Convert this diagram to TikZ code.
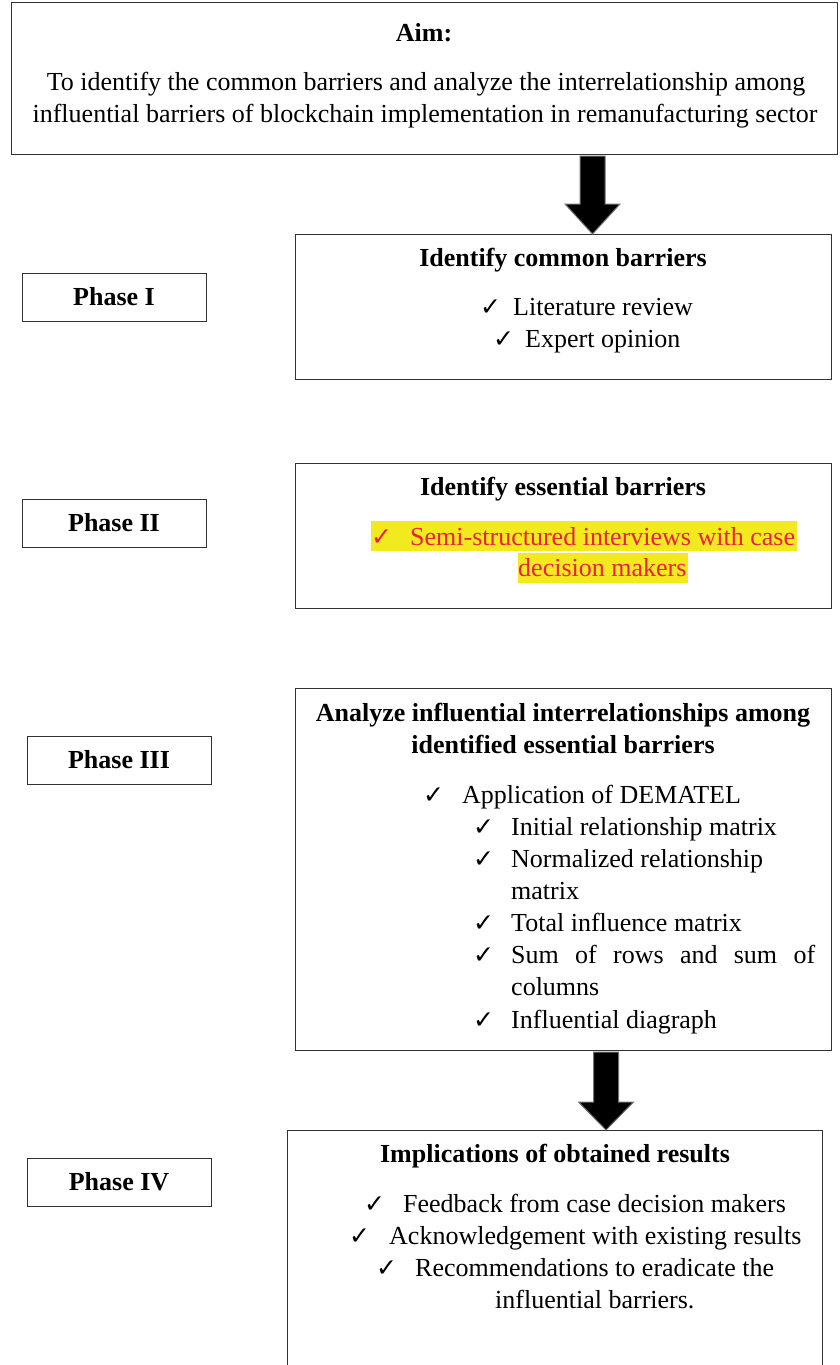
\documentclass[tikz,border=0pt]{standalone}
\usepackage{fontspec}
\setmainfont{Liberation Serif}
\newfontfamily\symf{DejaVu Sans}
\usetikzlibrary{calc}
\definecolor{hlred}{RGB}{236,32,66}
\definecolor{hlyel}{RGB}{242,234,30}
\definecolor{edge}{RGB}{50,50,50}
\tikzset{
 frame/.style={draw=edge, line width=1.2pt, inner sep=0pt, anchor=north west},
 txt/.style={inner sep=0pt, font=\fontsize{26}{32}\selectfont},
 hd/.style={inner sep=0pt, font=\fontsize{26}{32}\selectfont\bfseries},
 ck/.style={inner sep=0pt, anchor=base west, font=\symf\fontsize{25}{30}\selectfont},
 blk/.style={fill=black, draw=black!55, line width=1pt},
 hl/.style={fill=hlyel, draw=none},
}
\begin{document}
\begin{tikzpicture}[x=1pt,y=-1pt]
\useasboundingbox (0,0) rectangle (840,1365);
\clip (0,0) rectangle (840,1365);
\fill[white] (0,0) rectangle (840,1365);

% boxes
\node[frame, minimum width=826pt, minimum height=152pt] (aim) at (11,2) {};
\node[frame, minimum width=184pt, minimum height=48pt] (p1) at (22,273) {};
\node[frame, minimum width=184pt, minimum height=48pt] (p2) at (22,499) {};
\node[frame, minimum width=184pt, minimum height=48pt] (p3) at (27,736) {};
\node[frame, minimum width=184pt, minimum height=48pt] (p4) at (27,1158) {};
\node[frame, minimum width=536pt, minimum height=145pt] (c1) at (295,234) {};
\node[frame, minimum width=536pt, minimum height=145pt] (c2) at (295,463) {};
\node[frame, minimum width=536pt, minimum height=362pt] (c3) at (295,688) {};
\node[frame, minimum width=535pt, minimum height=260pt] (c4) at (287,1130) {};

% block arrows
\coordinate (a1x) at (592.5,0);
\coordinate (a1s) at (a1x |- aim.south);
\coordinate (a1e) at (a1x |- c1.north);
\draw[blk] ($(a1s)+(-12.5,1)$) -- ($(a1s)+(12.5,1)$) -- ($(a1e)+(12.5,-30)$) -- ($(a1e)+(27.5,-30)$) -- (a1e) -- ($(a1e)+(-27.5,-30)$) -- ($(a1e)+(-12.5,-30)$) -- cycle;
\coordinate (a2x) at (606,0);
\coordinate (a2s) at (a2x |- c3.south);
\coordinate (a2e) at (a2x |- c4.north);
\draw[blk] ($(a2s)+(-12.5,1)$) -- ($(a2s)+(12.5,1)$) -- ($(a2e)+(12.5,-28)$) -- ($(a2e)+(27.5,-28)$) -- (a2e) -- ($(a2e)+(-27.5,-28)$) -- ($(a2e)+(-12.5,-28)$) -- cycle;

% Aim
\node[hd, anchor=base] (aimT) at (424,41) {Aim:};
\node[txt, anchor=base] (aimL1) at (426,90) {To identify the common barriers and analyze the interrelationship among};
\node[txt, anchor=base] (aimL2) at (425,122) {influential barriers of blockchain implementation in remanufacturing sector};

% Phase labels
\node[hd, anchor=base] (p1T) at (114,305) {Phase I};
\node[hd, anchor=base] (p2T) at (114,531) {Phase II};
\node[hd, anchor=base] (p3T) at (119,768) {Phase III};
\node[hd, anchor=base] (p4T) at (119,1190) {Phase IV};

% Phase I content
\node[hd, anchor=base] (c1H) at (563,266) {Identify common barriers};
\node[ck] (c1k1) at (480,315) {✓};
\node[txt, anchor=base west] (c1t1) at (513,315) {Literature review};
\node[ck] (c1k2) at (493,347) {✓};
\node[txt, anchor=base west] (c1t2) at (525,347) {Expert opinion};

% Phase II content
\node[hd, anchor=base] (c2H) at (563,495) {Identify essential barriers};
\fill[hl] (371,521) rectangle (797,551);
\fill[hl] (518,553) rectangle (688,583);
\node[ck, text=hlred] (c2k1) at (371,545) {✓};
\node[txt, anchor=base west, text=hlred] (c2t1) at (410,545) {Semi-structured interviews with case};
\node[txt, anchor=base west, text=hlred] (c2t2) at (518,576) {decision makers};

% Phase III content
\node[hd, anchor=base] (c3H1) at (563,721) {Analyze influential interrelationships among};
\node[hd, anchor=base] (c3H2) at (563,753) {identified essential barriers};
\node[ck] (c3k0) at (423,803) {✓};
\node[txt, anchor=base west] (c3t0) at (462,803) {Application of DEMATEL};
\node[ck] (c3k1) at (473,835) {✓};
\node[txt, anchor=base west] (c3t1) at (511,835) {Initial relationship matrix};
\node[ck] (c3k2) at (473,867) {✓};
\node[txt, anchor=base west] (c3t2) at (511,867) {Normalized relationship};
\node[txt, anchor=base west] (c3t2b) at (511,899) {matrix};
\node[ck] (c3k3) at (473,931) {✓};
\node[txt, anchor=base west] (c3t3) at (511,931) {Total influence matrix};
\node[ck] (c3k4) at (473,963) {✓};
\node[txt, anchor=base west] (c3t4) at (511,963) {\makebox[304pt][s]{Sum of rows and sum of}};
\node[txt, anchor=base west] (c3t4b) at (511,995) {columns};
\node[ck] (c3k5) at (473,1028) {✓};
\node[txt, anchor=base west] (c3t5) at (511,1028) {Influential diagraph};

% Phase IV content
\node[hd, anchor=base] (c4H) at (555,1162) {Implications of obtained results};
\node[ck] (c4k1) at (364,1212) {✓};
\node[txt, anchor=base west] (c4t1) at (403,1212) {Feedback from case decision makers};
\node[ck] (c4k2) at (349,1244) {✓};
\node[txt, anchor=base west] (c4t2) at (389,1244) {Acknowledgement with existing results};
\node[ck] (c4k3) at (376,1276) {✓};
\node[txt, anchor=base west] (c4t3) at (415,1276) {Recommendations to eradicate the};
\node[txt, anchor=base west] (c4t3b) at (495,1308) {influential barriers.};
\end{tikzpicture}
\end{document}
